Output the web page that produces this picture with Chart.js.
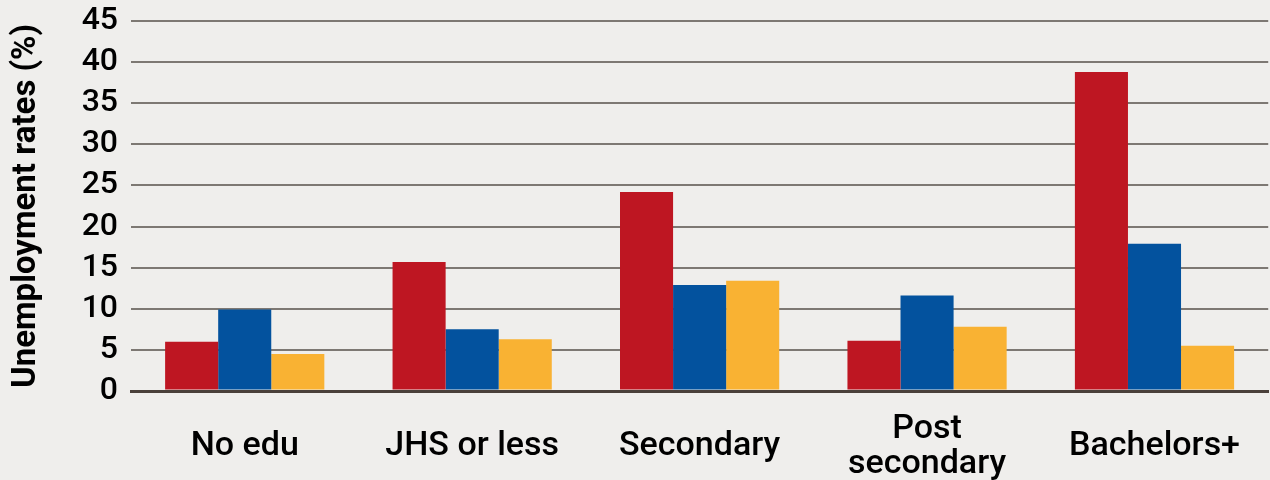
<!DOCTYPE html>
<html>
    <head>
        <meta charset="utf-8">
        <script src="https://cdn.jsdelivr.net/npm/chart.js"></script>
        <title>Unemployment rates by education</title>
        <style>
            html, body { margin: 0; padding: 0; background: #efeeec; }
            #chart { width: 1270px; height: 480px; }
        </style>
    </head>
    <body>
        <div id="chart">
            <canvas id="rateChart"></canvas>
        </div>

        <script>
        const categories = ['No edu', 'JHS or less', 'Secondary', ['Post', 'secondary'], 'Bachelors+'];
        const redValues = [6.0, 15.7, 24.2, 6.1, 38.8];
        const blueValues = [9.9, 7.5, 12.9, 11.6, 17.9];
        const yellowValues = [4.5, 6.3, 13.4, 7.8, 5.5];
        const yTicks = [0, 5, 10, 15, 20, 25, 30, 35, 40, 45];

        const fontFamily = 'Roboto, "Liberation Sans", Arial, sans-serif';

        const ctx = document.getElementById('rateChart').getContext('2d');

        new Chart(ctx, {
            type: 'bar',
            data: {
                labels: categories,
                datasets: [
                    { data: redValues, backgroundColor: '#be1622' },
                    { data: blueValues, backgroundColor: '#03529e' },
                    { data: yellowValues, backgroundColor: '#f9b233' }
                ]
            },
            options: {
                responsive: true,
                maintainAspectRatio: false,
                animation: false,
                layout: { padding: { top: 21, right: 0, left: 7, bottom: 0 } },
                datasets: {
                    bar: { categoryPercentage: 0.7, barPercentage: 1.0 }
                },
                plugins: {
                    legend: { display: false },
                    tooltip: { enabled: false }
                },
                scales: {
                    x: {
                        grid: { display: false },
                        border: { color: '#4a403a', width: 3 },
                        afterFit: axis => { axis.height = 89; },
                        ticks: {
                            color: '#000',
                            padding: 30,
                            maxRotation: 0,
                            autoSkip: false,
                            crossAlign: 'center',
                            font: { family: fontFamily, size: 34, weight: '500', lineHeight: 1.03 }
                        }
                    },
                    y: {
                        min: 0,
                        max: 45,
                        afterBuildTicks: axis => {
                            axis.ticks = yTicks.map(v => ({ value: v }));
                        },
                        afterFit: axis => {
                            axis.width = 124;
                            axis.paddingTop = 0;
                        },
                        border: { display: false },
                        grid: {
                            color: c => c.tick.value === 0 ? '#4a403a' : '#7d7873',
                            lineWidth: c => c.tick.value === 0 ? 3 : 2,
                            drawTicks: false
                        },
                        ticks: {
                            color: '#000',
                            padding: 13,
                            autoSkip: false,
                            font: { family: fontFamily, size: 32, weight: '500' }
                        },
                        title: {
                            display: true,
                            text: 'Unemployment rates (%)',
                            color: '#000',
                            padding: 0,
                            font: { family: fontFamily, size: 33, weight: 'bold' }
                        }
                    }
                }
            }
        });
        </script>
    </body>
</html>
